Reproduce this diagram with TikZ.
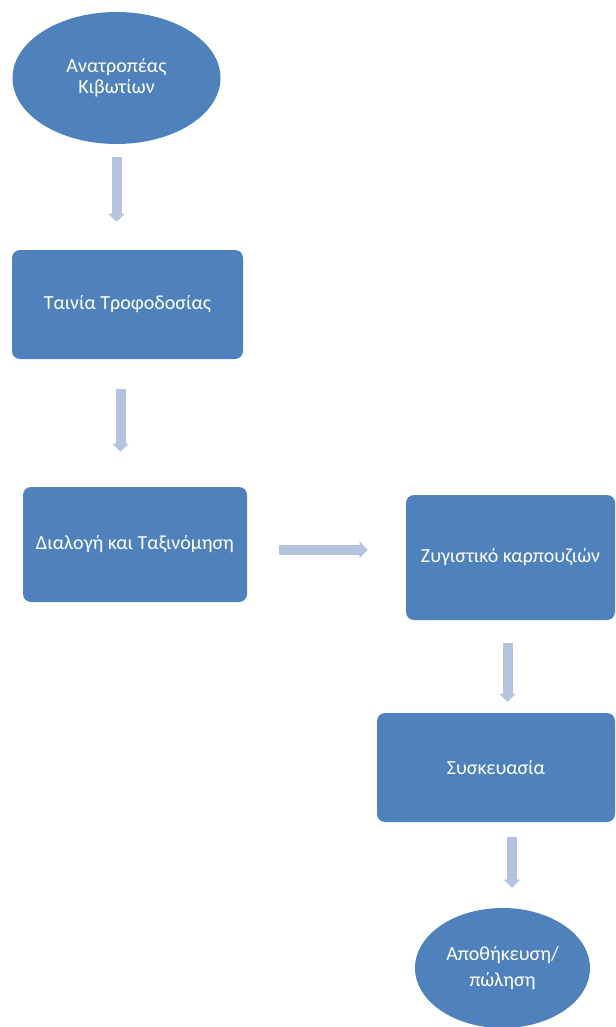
\documentclass[tikz,border=0pt]{standalone}
\usepackage{fontspec}
\setmainfont{Carlito}
\usetikzlibrary{arrows.meta,shapes.geometric,calc}
\definecolor{boxblue}{HTML}{4F81BD}
\definecolor{arrowblue}{HTML}{B4C4DF}
\begin{document}
\begin{tikzpicture}[x=0.75pt,y=-0.75pt,
  stepbox/.style={draw=none,fill=boxblue,rounded corners=6pt,text=white,
    font=\fontsize{15}{16}\selectfont,align=center,inner sep=0pt},
  oval/.style={ellipse,draw=none,fill=boxblue,text=white,
    font=\fontsize{15}{16}\selectfont,align=center,inner sep=0pt},
  flow/.style={draw=arrowblue,line width=7.5pt,
    -{Triangle[length=6pt,width=12pt]}}]
\useasboundingbox (0,0) rectangle (616,1027);
\begin{scope}
\clip (0,0) rectangle (616,1027);
% process nodes
\node[oval,minimum width=156pt,minimum height=99pt] (tip) at (116.5,78)
  {Ανατροπέας\\Κιβωτίων};
\node[stepbox,minimum width=173.25pt,minimum height=81.75pt] (feed) at (127.5,304.5)
  {Ταινία Τροφοδοσίας};
\node[stepbox,minimum width=168pt,minimum height=86.25pt] (sort) at (135,544.5)
  {\raisebox{-3.5pt}{Διαλογή και Ταξινόμηση}};
\node[stepbox,minimum width=156.75pt,minimum height=93.75pt] (weigh) at (510.5,557.5)
  {Ζυγιστικό καρπουζιών};
\node[stepbox,minimum width=178.5pt,minimum height=81.75pt] (pack) at (496,767.5)
  {Συσκευασία};
\node[oval,minimum width=131.25pt,minimum height=90pt,
  font=\fontsize{15}{20}\selectfont] (store) at (502.5,968)
  {Αποθήκευση/\\πώληση};
% connectors
\draw[flow] ([yshift=-9.75pt]tip.south) -- ([yshift=21pt]tip.south |- feed.north);
\draw[flow] ([xshift=-5.25pt,yshift=-22.5pt]feed.south) -- ([xshift=-5.25pt,yshift=26.25pt]feed.south |- sort.north);
\draw[flow] ([xshift=24pt,yshift=-4pt]sort.east) -- ([xshift=-28.5pt,yshift=-4pt]sort.east -| weigh.west);
\draw[flow] ([xshift=-2.25pt,yshift=-17.25pt]weigh.south) -- ([xshift=-2.25pt,yshift=8.25pt]weigh.south |- pack.north);
\draw[flow] ([xshift=12pt,yshift=-11.25pt]pack.south) -- ([xshift=12pt,yshift=15pt]pack.south |- store.north);
\end{scope}
\end{tikzpicture}
\end{document}
